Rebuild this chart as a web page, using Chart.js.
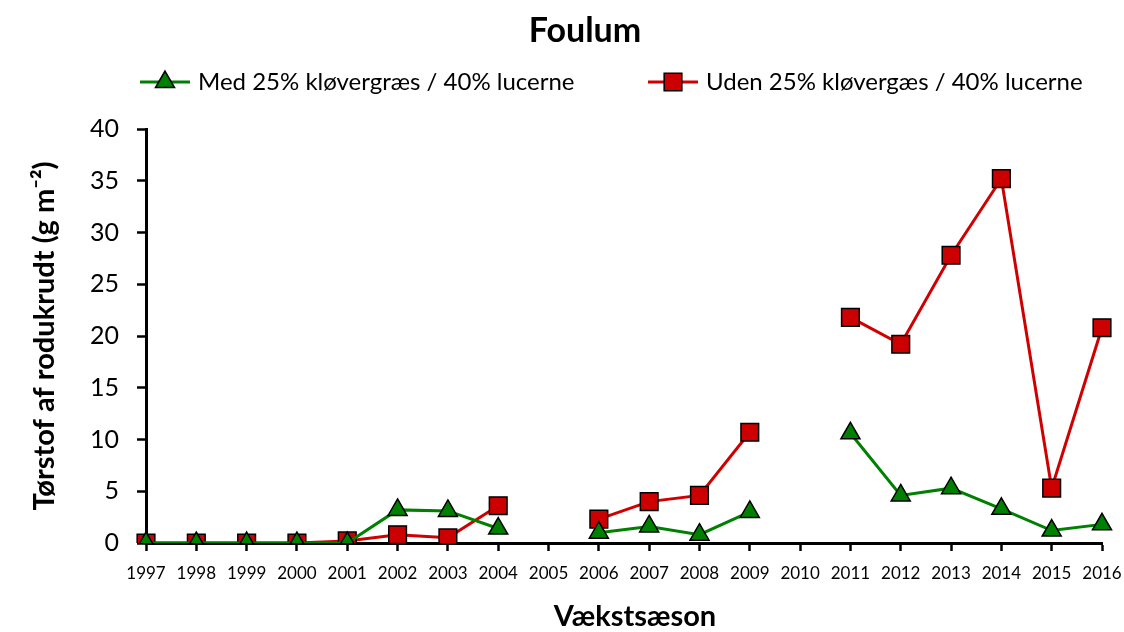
<!DOCTYPE html>
<html>
<head>
<meta charset="utf-8">
<script src="https://cdn.jsdelivr.net/npm/chart.js@4"></script>
<style>
  html, body { margin: 0; padding: 0; background: #fff; }
  #wrap { width: 1124px; height: 632px; }
</style>
</head>
<body>
<div id="wrap"><canvas id="foulumChart" width="1124" height="632"></canvas></div>
<script>
// data (2005 and 2010 have no values)
var years = ['1997','1998','1999','2000','2001','2002','2003','2004','2005','2006',
             '2007','2008','2009','2010','2011','2012','2013','2014','2015','2016'];
var medValues = [0, 0, 0, 0, 0, 3.2, 3.1, 1.4, null, 1.0,
                 1.6, 0.8, 3.0, null, 10.6, 4.6, 5.3, 3.3, 1.2, 1.8];
var udenValues = [0, 0, 0, 0, 0.2, 0.8, 0.5, 3.6, null, 2.3,
                  4.0, 4.6, 10.7, null, 21.8, 19.2, 27.8, 35.2, 5.3, 20.8];
var yTicks = [0, 5, 10, 15, 20, 25, 30, 35, 40];

var chartTitle = 'Foulum';
var xTitle = 'Vækstsæson';
var yTitle = 'Tørstof af rodukrudt (g m⁻²)';

var FONT = 'Lato, "Open Sans", sans-serif';

// title, x title and a legend with a line through the marker, placed like the original
var extras = {
  id: 'extras',
  afterDraw: function (chart) {
    var ctx = chart.ctx;
    ctx.save();
    ctx.fillStyle = '#000';
    ctx.textAlign = 'center';
    ctx.textBaseline = 'middle';
    ctx.font = 'bold 34px ' + FONT;
    ctx.fillText(chartTitle, 585, 31);
    ctx.font = 'bold 29px ' + FONT;
    ctx.fillText(xTitle, 635, 617);

    var items = [
      { ds: chart.data.datasets[0], x: 140 },
      { ds: chart.data.datasets[1], x: 648 }
    ];
    var y = 82;
    items.forEach(function (it) {
      var ds = it.ds;
      ctx.strokeStyle = ds.borderColor;
      ctx.lineWidth = ds.borderWidth;
      ctx.beginPath();
      ctx.moveTo(it.x, y);
      ctx.lineTo(it.x + 50, y);
      ctx.stroke();
      ctx.fillStyle = ds.pointBackgroundColor;
      ctx.strokeStyle = ds.pointBorderColor;
      ctx.lineWidth = ds.pointBorderWidth;
      Chart.helpers.drawPoint(ctx, {
        pointStyle: ds.pointStyle,
        radius: ds.pointRadius,
        rotation: 0,
        borderWidth: ds.pointBorderWidth
      }, it.x + 25, y);
      ctx.fillStyle = '#000';
      ctx.font = '24px ' + FONT;
      ctx.textAlign = 'left';
      ctx.fillText(ds.label, it.x + 58, y);
    });
    ctx.restore();
  }
};

new Chart(document.getElementById('foulumChart'), {
  type: 'line',
  data: {
    labels: years,
    datasets: [
      {
        label: 'Med 25% kløvergræs / 40% lucerne',
        data: medValues,
        borderColor: '#008000',
        borderWidth: 3,
        pointStyle: 'triangle',
        pointRadius: 11,
        pointHoverRadius: 11,
        pointBackgroundColor: '#008000',
        pointBorderColor: '#000',
        pointBorderWidth: 1.5,
        spanGaps: false,
        tension: 0
      },
      {
        label: 'Uden 25% kløvergæs / 40% lucerne',
        data: udenValues,
        borderColor: '#D00000',
        borderWidth: 3,
        pointStyle: 'rect',
        pointRadius: 12.5,
        pointHoverRadius: 12.5,
        pointBackgroundColor: '#CC0000',
        pointBorderColor: '#000',
        pointBorderWidth: 1.5,
        spanGaps: false,
        tension: 0
      }
    ]
  },
  options: {
    responsive: false,
    animation: false,
    events: [],
    layout: { padding: { left: 0, right: 22, top: 129, bottom: 0 } },
    plugins: {
      legend: { display: false },
      tooltip: { enabled: false },
      title: { display: false }
    },
    scales: {
      x: {
        offset: false,
        grid: {
          display: true,
          drawOnChartArea: false,
          drawTicks: true,
          tickLength: 8,
          tickWidth: 2.5,
          tickColor: '#000'
        },
        border: { display: true, color: '#000', width: 3 },
        ticks: {
          color: '#000',
          autoSkip: false,
          maxRotation: 0,
          padding: 12,
          font: { family: FONT, size: 17 }
        },
        afterFit: function (scale) {
          scale.height = 89;
          scale.paddingLeft = 0;
          scale.paddingRight = 0;
        }
      },
      y: {
        min: 0,
        max: 40,
        afterBuildTicks: function (scale) {
          scale.ticks = yTicks.map(function (v) { return { value: v }; });
        },
        grid: {
          display: true,
          drawOnChartArea: false,
          drawTicks: true,
          tickLength: 9,
          tickWidth: 2.5,
          tickColor: '#000'
        },
        border: { display: true, color: '#000', width: 3 },
        ticks: {
          color: '#000',
          padding: 18,
          font: { family: FONT, size: 25 }
        },
        title: {
          display: true,
          text: yTitle,
          color: '#000',
          font: { family: FONT, size: 29, weight: 'bold', lineHeight: 1.2 },
          padding: { top: 27, bottom: 0 }
        },
        afterFit: function (scale) {
          scale.width = 146;
          scale.paddingTop = 0;
          scale.paddingBottom = 0;
        }
      }
    }
  },
  plugins: [extras]
});
</script>
</body>
</html>
